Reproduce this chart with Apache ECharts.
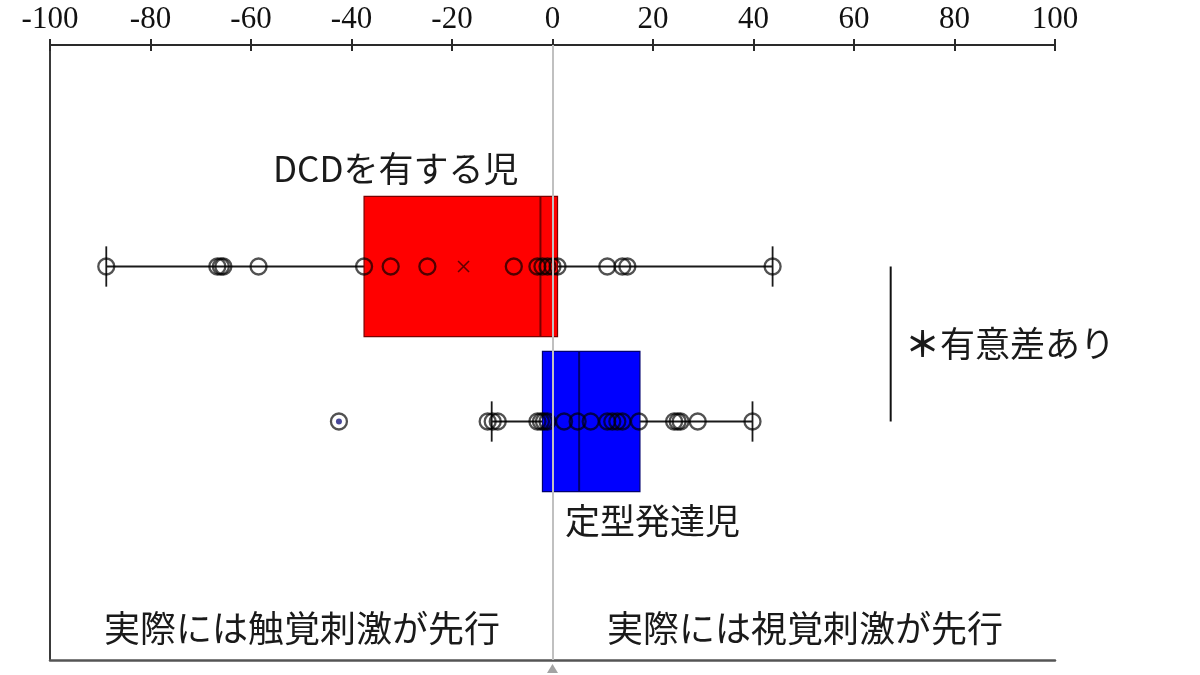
<!DOCTYPE html>
<html lang="ja">
<head>
<meta charset="UTF-8">
<title>DCD 時間順序判断</title>
<script src="https://cdn.jsdelivr.net/npm/echarts@6/dist/echarts.min.js"></script>
<style>
  html, body { margin: 0; padding: 0; background: #fff; }
  #main { width: 1200px; height: 675px; }
</style>
</head>
<body>
<div id="main"></div>
<script>
// 軸
var xMin = -100, xMax = 100, xStep = 20;
// 群
var groups = ['DCDを有する児', '定型発達児'];
// 箱ひげ [最小, Q1, 中央値, Q3, 最大]
var boxStats = [
  [-88.8, -37.5, -2.4, 1.0, 43.8],
  [-12.1, -2.0, 5.3, 17.4, 39.8]
];
// 個人データ
var dcdPoints = [-88.8, -66.7, -66.0, -65.5, -58.5, -37.5, -32.2, -24.9, -7.7,
  -3.0, -2.0, -1.0, 0, 1.0, 10.9, 13.9, 14.9, 43.8];
var tdPoints = [-42.5, -12.9, -11.9, -10.9, -3.0, -2.3, -1.7, -1.0, 2.3, 5.0, 7.6,
  10.9, 11.9, 12.9, 13.9, 17.2, 24.2, 24.9, 25.5, 28.9, 39.8];
var tdOutlier = [-42.5];
var dcdMean = [-17.7];
// 有意差の線の位置
var sigX = 67.3;
var zeroX = 0;

var boxColors = [
  { fill: '#ff0000', edge: '#7a0000' },
  { fill: '#0000ff', edge: '#00006e' }
];

var chart = echarts.init(document.getElementById('main'));

var cjk = '"Noto Sans CJK JP", "Noto Sans", sans-serif';
var tickStyle = { color: '#2a2a2a', width: 2 };
var noAxis = { axisLine: { show: false }, axisTick: { show: false }, axisLabel: { show: false }, splitLine: { show: false } };

var option = {
  backgroundColor: '#fff',
  animation: false,
  grid: [
    { left: 50, right: 145, top: 45, bottom: 15 },
    { left: 50, right: 145, top: 189, height: 310 },
    { left: 50, right: 145, top: 45, height: 60 }
  ],
  xAxis: [
    {
      gridIndex: 0, type: 'value', position: 'top',
      min: xMin, max: xMax, interval: xStep,
      axisLine: { onZero: false, lineStyle: { color: '#2a2a2a', width: 2 } },
      axisTick: { length: 6, lineStyle: tickStyle },
      axisLabel: { fontFamily: '"Liberation Serif", serif', fontSize: 31, color: '#111', margin: 10 },
      splitLine: { show: false }
    },
    {
      gridIndex: 0, type: 'value', position: 'bottom',
      min: xMin, max: xMax,
      axisLine: { onZero: false, lineStyle: { color: '#555', width: 2.5 } },
      axisTick: { show: false },
      axisLabel: { show: false },
      splitLine: { show: false }
    },
    { gridIndex: 1, type: 'value', min: xMin, max: xMax, show: false },
    {
      gridIndex: 2, type: 'value', position: 'top',
      min: xMin, max: xMax, interval: xStep,
      axisLine: { show: false, onZero: false },
      axisTick: { inside: true, length: 6, lineStyle: tickStyle },
      axisLabel: { show: false },
      splitLine: { show: false }
    }
  ],
  yAxis: [
    {
      gridIndex: 0, type: 'value', min: 0, max: 1,
      axisLine: { show: true, onZero: false, lineStyle: { color: '#3a3a3a', width: 2 } },
      axisTick: { show: false },
      axisLabel: { show: false },
      splitLine: { show: false }
    },
    { gridIndex: 1, type: 'category', data: groups, inverse: true, show: false },
    Object.assign({ gridIndex: 2, type: 'value', min: 0, max: 1 }, noAxis)
  ],
  series: [
    {
      // 0 の縦線と下の三角
      type: 'scatter', xAxisIndex: 0, yAxisIndex: 0,
      data: [[zeroX, -0.014]],
      clip: false, silent: true,
      symbol: 'triangle', symbolSize: [11, 9],
      itemStyle: { color: '#8c8c8c' },
      markLine: {
        silent: true, symbol: 'none', label: { show: false },
        lineStyle: { color: '#c0c0c0', width: 2, type: 'solid' },
        data: [{ xAxis: zeroX }]
      }
    },
    {
      type: 'custom', xAxisIndex: 2, yAxisIndex: 1, z: 2,
      data: boxStats.map(function (s, i) { return [i].concat(s); }),
      encode: { x: [1, 2, 3, 4, 5], y: 0 },
      renderItem: function (params, api) {
        var c = api.value(0);
        var p = [1, 2, 3, 4, 5].map(function (k) { return api.coord([api.value(k), c]); });
        var band = api.size([0, 1])[1];
        var y = p[0][1];
        var bh = band * 0.905, ch = band * 0.26;
        var col = boxColors[params.dataIndex];
        var ln = { stroke: '#1a1a1a', lineWidth: 1.8 };
        return {
          type: 'group',
          children: [
            { type: 'line', shape: { x1: p[0][0], y1: y, x2: p[4][0], y2: y }, style: ln },
            { type: 'line', shape: { x1: p[0][0], y1: y - ch / 2, x2: p[0][0], y2: y + ch / 2 }, style: ln },
            { type: 'line', shape: { x1: p[4][0], y1: y - ch / 2, x2: p[4][0], y2: y + ch / 2 }, style: ln },
            { type: 'rect', shape: { x: p[1][0], y: y - bh / 2, width: p[3][0] - p[1][0], height: bh },
              style: { fill: col.fill, stroke: col.edge, lineWidth: 1.2 } },
            { type: 'line', shape: { x1: p[2][0], y1: y - bh / 2, x2: p[2][0], y2: y + bh / 2 },
              style: { stroke: col.edge, lineWidth: 2 } }
          ]
        };
      }
    },
    {
      // 有意差
      type: 'line', xAxisIndex: 2, yAxisIndex: 1,
      data: [[sigX, groups[0]], [sigX, groups[1]]],
      symbol: 'none', silent: true,
      lineStyle: { color: '#111', width: 2 }
    },
    {
      type: 'scatter', xAxisIndex: 2, yAxisIndex: 1, z: 3,
      data: dcdPoints.map(function (v) { return [v, groups[0]]; }),
      symbol: 'circle', symbolSize: 16,
      itemStyle: { color: 'rgba(0,0,0,0)', borderColor: 'rgba(0,0,0,0.85)', borderWidth: 2.3 }
    },
    {
      type: 'scatter', xAxisIndex: 2, yAxisIndex: 1, z: 3,
      data: tdPoints.map(function (v) { return [v, groups[1]]; }),
      symbol: 'circle', symbolSize: 16,
      itemStyle: { color: 'rgba(0,0,0,0)', borderColor: 'rgba(0,0,0,0.85)', borderWidth: 2.3 }
    },
    {
      type: 'scatter', xAxisIndex: 2, yAxisIndex: 1, z: 4,
      data: tdOutlier.map(function (v) { return [v, groups[1]]; }),
      symbol: 'circle', symbolSize: 6,
      itemStyle: { color: '#1a1a80' }
    },
    {
      type: 'scatter', xAxisIndex: 2, yAxisIndex: 1, z: 4,
      data: dcdMean.map(function (v) { return [v, groups[0]]; }),
      symbol: 'path://M0,0L10,10M10,0L0,10', symbolSize: 11,
      itemStyle: { color: 'none', borderColor: '#3a0000', borderWidth: 1.6 }
    },
    {
      // 目盛り（内側）用のダミー
      type: 'scatter', xAxisIndex: 3, yAxisIndex: 2, data: [], silent: true
    }
  ],
  graphic: [
    { type: 'text', left: 273, top: 151,
      style: { text: 'DCDを有する児', font: '35px ' + cjk, fill: '#1a1a1a' } },
    { type: 'text', left: 565, top: 503,
      style: { text: '定型発達児', font: '35px ' + cjk, fill: '#1a1a1a' } },
    { type: 'text', left: 905, top: 326,
      style: { text: '{a|＊}有意差あり', font: '35px ' + cjk, fill: '#1a1a1a',
        rich: { a: { fontWeight: 'bold', fontSize: 35, fontFamily: 'Noto Sans CJK JP' } } } },
    { type: 'text', left: 104, top: 610,
      style: { text: '実際には触覚刺激が先行', font: '36px ' + cjk, fill: '#1a1a1a' } },
    { type: 'text', left: 607, top: 610,
      style: { text: '実際には視覚刺激が先行', font: '36px ' + cjk, fill: '#1a1a1a' } }
  ]
};

chart.setOption(option);
</script>
</body>
</html>
